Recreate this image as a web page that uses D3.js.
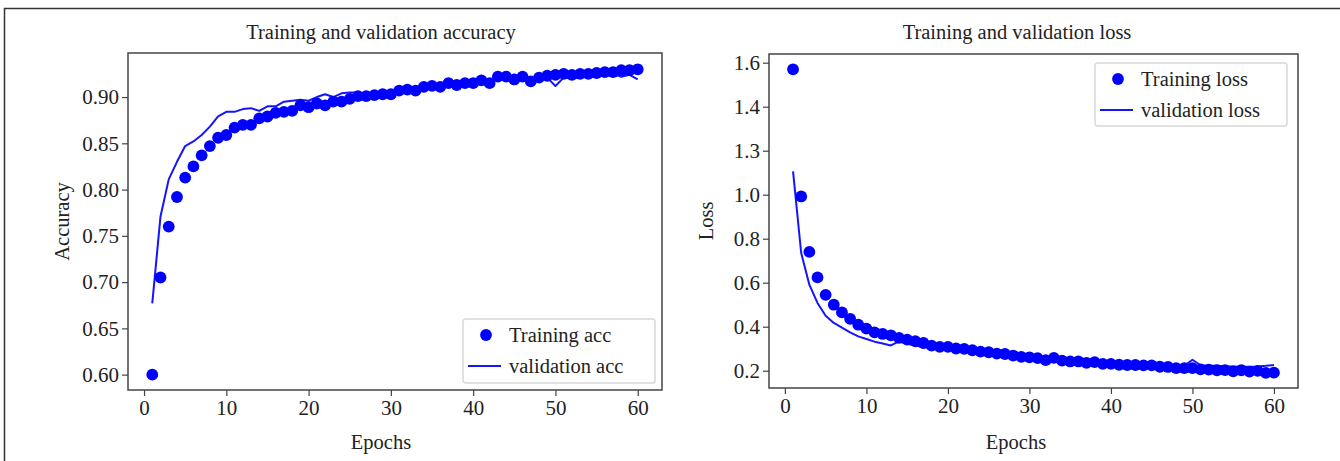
<!DOCTYPE html>
<html>
<head>
<meta charset="utf-8" />
<title>Training and validation curves</title>
<style>
html, body {
    margin: 0px;
    padding: 0px;
    background: #fff;
}
svg {
    display: block;
    font-family: "Liberation Serif", "Times New Roman", serif;
}
</style>
</head>
<body>
<svg id="chart" width="1340" height="461"></svg>

<script src="https://d3js.org/d3.v7.min.js"></script>
<script>
// epochs 1..60
var epochs = d3.range(1, 61)

var trainAcc = [0.600, 0.705, 0.760, 0.792, 0.813, 0.825, 0.837, 0.847, 0.856, 0.859,
                0.867, 0.870, 0.870, 0.877, 0.879, 0.883, 0.884, 0.885, 0.891, 0.889,
                0.893, 0.891, 0.895, 0.895, 0.898, 0.901, 0.901, 0.902, 0.903, 0.903,
                0.907, 0.908, 0.907, 0.911, 0.912, 0.911, 0.915, 0.913, 0.915, 0.915,
                0.918, 0.915, 0.922, 0.922, 0.919, 0.922, 0.917, 0.921, 0.923, 0.924,
                0.925, 0.924, 0.925, 0.925, 0.926, 0.927, 0.927, 0.929, 0.929, 0.930]

var valAcc = [0.677, 0.771, 0.811, 0.830, 0.847, 0.852, 0.859, 0.868, 0.879, 0.884,
              0.884, 0.887, 0.888, 0.885, 0.890, 0.890, 0.895, 0.896, 0.897, 0.896,
              0.900, 0.903, 0.900, 0.904, 0.905, 0.905, 0.903, 0.902, 0.904, 0.905,
              0.906, 0.907, 0.906, 0.909, 0.911, 0.912, 0.913, 0.913, 0.914, 0.915,
              0.916, 0.917, 0.919, 0.920, 0.920, 0.920, 0.919, 0.921, 0.921, 0.912,
              0.921, 0.920, 0.921, 0.922, 0.924, 0.925, 0.925, 0.922, 0.924, 0.919]

var trainLoss = [1.570, 0.992, 0.740, 0.624, 0.545, 0.500, 0.465, 0.436, 0.409, 0.391,
                 0.374, 0.367, 0.361, 0.349, 0.341, 0.334, 0.326, 0.314, 0.308, 0.308,
                 0.301, 0.299, 0.293, 0.287, 0.284, 0.278, 0.276, 0.269, 0.263, 0.261,
                 0.257, 0.248, 0.258, 0.246, 0.242, 0.242, 0.236, 0.239, 0.231, 0.231,
                 0.227, 0.226, 0.226, 0.224, 0.224, 0.218, 0.217, 0.212, 0.212, 0.212,
                 0.206, 0.205, 0.202, 0.203, 0.197, 0.202, 0.196, 0.199, 0.190, 0.191]

var valLoss = [1.106, 0.735, 0.591, 0.508, 0.450, 0.417, 0.396, 0.374, 0.356, 0.344,
               0.332, 0.324, 0.315, 0.333, 0.322, 0.315, 0.308, 0.303, 0.300, 0.298,
               0.295, 0.291, 0.288, 0.285, 0.281, 0.278, 0.275, 0.272, 0.268, 0.265,
               0.262, 0.259, 0.257, 0.254, 0.251, 0.248, 0.246, 0.243, 0.241, 0.238,
               0.236, 0.234, 0.232, 0.230, 0.228, 0.226, 0.225, 0.223, 0.222, 0.250,
               0.225, 0.223, 0.222, 0.220, 0.219, 0.218, 0.218, 0.219, 0.222, 0.226]

var xTicks = [0, 10, 20, 30, 40, 50, 60]
var accTicks = [0.60, 0.65, 0.70, 0.75, 0.80, 0.85, 0.90]
var accTickLabels = ["0.60", "0.65", "0.70", "0.75", "0.80", "0.85", "0.90"]
var lossTicks = [0.2, 0.4, 0.6, 0.8, 1.0, 1.2, 1.4, 1.6]
var lossTickLabels = ["0.2", "0.4", "0.6", "0.8", "1.0", "1.3", "1.4", "1.6"]

var blue = "#0000ff"
var lineBlue = "#1414ff"
var axisColor = "#444"
var svg = d3.select("#chart")

// outer frame (top and left edges only)
svg.append("path")
    .attr("d", "M4.5,461 L4.5,8.5 L1340,8.5")
    .attr("fill", "none")
    .attr("stroke", "#333")
    .attr("stroke-width", 1.5)

drawPanel({
    left: 128, right: 662, top: 53, bottom: 390,
    yDomain: [0.5834, 0.9476],
    yTicks: accTicks, yLabels: accTickLabels,
    train: trainAcc, val: valAcc,
    title: "Training and validation accuracy", titleX: 381,
    yTitle: "Accuracy", yTitleX: 62,
    xTitleX: 381,
    legend: {x: 463, y: 319, w: 192, h: 64},
    names: ["Training acc", "validation acc"]
})

drawPanel({
    left: 769, right: 1298, top: 54, bottom: 388,
    yDomain: [0.1214, 1.6395],
    yTicks: lossTicks, yLabels: lossTickLabels,
    train: trainLoss, val: valLoss,
    title: "Training and validation loss", titleX: 1017,
    yTitle: "Loss", yTitleX: 706,
    xTitleX: 1016,
    legend: {x: 1095, y: 63, w: 192, h: 63},
    names: ["Training loss", "validation loss"]
})

function drawPanel(cfg) {
    var x = d3.scaleLinear().domain([-1.95, 62.95]).range([cfg.left, cfg.right])
    var y = d3.scaleLinear().domain(cfg.yDomain).range([cfg.bottom, cfg.top])

    var g = svg.append("g")

    var xAxis = d3.axisBottom(x).tickValues(xTicks).tickSize(6).tickPadding(4)
        .tickFormat(d3.format("d"))
    var yAxis = d3.axisLeft(y).tickValues(cfg.yTicks).tickSize(6).tickPadding(3)
        .tickFormat(function(d, i) { return cfg.yLabels[i] })

    g.append("g")
        .attr("class", "x axis")
        .attr("transform", "translate(0," + cfg.bottom + ")")
        .call(xAxis)

    g.append("g")
        .attr("class", "y axis")
        .attr("transform", "translate(" + cfg.left + ",0)")
        .call(yAxis)

    g.selectAll(".axis .domain").remove()
    g.selectAll(".axis line").attr("stroke", axisColor).attr("stroke-width", 1.2)
    g.selectAll(".axis text")
        .attr("fill", "#222")
        .style("font-size", "21px")
        .style("font-family", "'Liberation Serif', serif")

    // axes frame
    g.append("rect")
        .attr("x", cfg.left).attr("y", cfg.top)
        .attr("width", cfg.right - cfg.left)
        .attr("height", cfg.bottom - cfg.top)
        .attr("fill", "none")
        .attr("stroke", axisColor)
        .attr("stroke-width", 1.5)

    // validation line
    var line = d3.line()
        .x(function(d, i) { return x(epochs[i]) })
        .y(function(d) { return y(d) })

    g.append("path")
        .datum(cfg.val)
        .attr("d", line)
        .attr("fill", "none")
        .attr("stroke", lineBlue)
        .attr("stroke-width", 2)
        .attr("stroke-linejoin", "round")

    // training dots
    g.selectAll(".dot")
        .data(cfg.train)
        .enter().append("circle")
        .attr("class", "dot")
        .attr("cx", function(d, i) { return x(epochs[i]) })
        .attr("cy", function(d) { return y(d) })
        .attr("r", 5.9)
        .attr("fill", blue)

    // titles
    g.append("text")
        .attr("x", cfg.titleX).attr("y", 39)
        .attr("text-anchor", "middle")
        .attr("fill", "#222")
        .style("font-size", "20.5px")
        .text(cfg.title)

    g.append("text")
        .attr("x", cfg.xTitleX).attr("y", 449)
        .attr("text-anchor", "middle")
        .attr("fill", "#222")
        .style("font-size", "20.5px")
        .text("Epochs")

    g.append("text")
        .attr("transform", "translate(" + (cfg.yTitleX + 7) + "," + (cfg.top + cfg.bottom) / 2 + ") rotate(-90)")
        .attr("text-anchor", "middle")
        .attr("fill", "#222")
        .style("font-size", "20.5px")
        .text(cfg.yTitle)

    // legend
    var lg = g.append("g").attr("transform", "translate(" + cfg.legend.x + "," + cfg.legend.y + ")")
    lg.append("rect")
        .attr("width", cfg.legend.w).attr("height", cfg.legend.h)
        .attr("rx", 3)
        .attr("fill", "#fff").attr("fill-opacity", 0.85)
        .attr("stroke", "#d8d8d8").attr("stroke-width", 1.5)
    lg.append("circle")
        .attr("cx", 23).attr("cy", 16).attr("r", 5.9).attr("fill", blue)
    lg.append("line")
        .attr("x1", 5).attr("x2", 38).attr("y1", 47).attr("y2", 47)
        .attr("stroke", lineBlue).attr("stroke-width", 2)
    lg.selectAll(".ltext")
        .data(cfg.names)
        .enter().append("text")
        .attr("class", "ltext")
        .attr("x", 46)
        .attr("y", function(d, i) { return 16 + i * 31 })
        .attr("dy", "0.35em")
        .attr("fill", "#222")
        .style("font-size", "20.5px")
        .text(function(d) { return d })
}
</script>
</body>
</html>
